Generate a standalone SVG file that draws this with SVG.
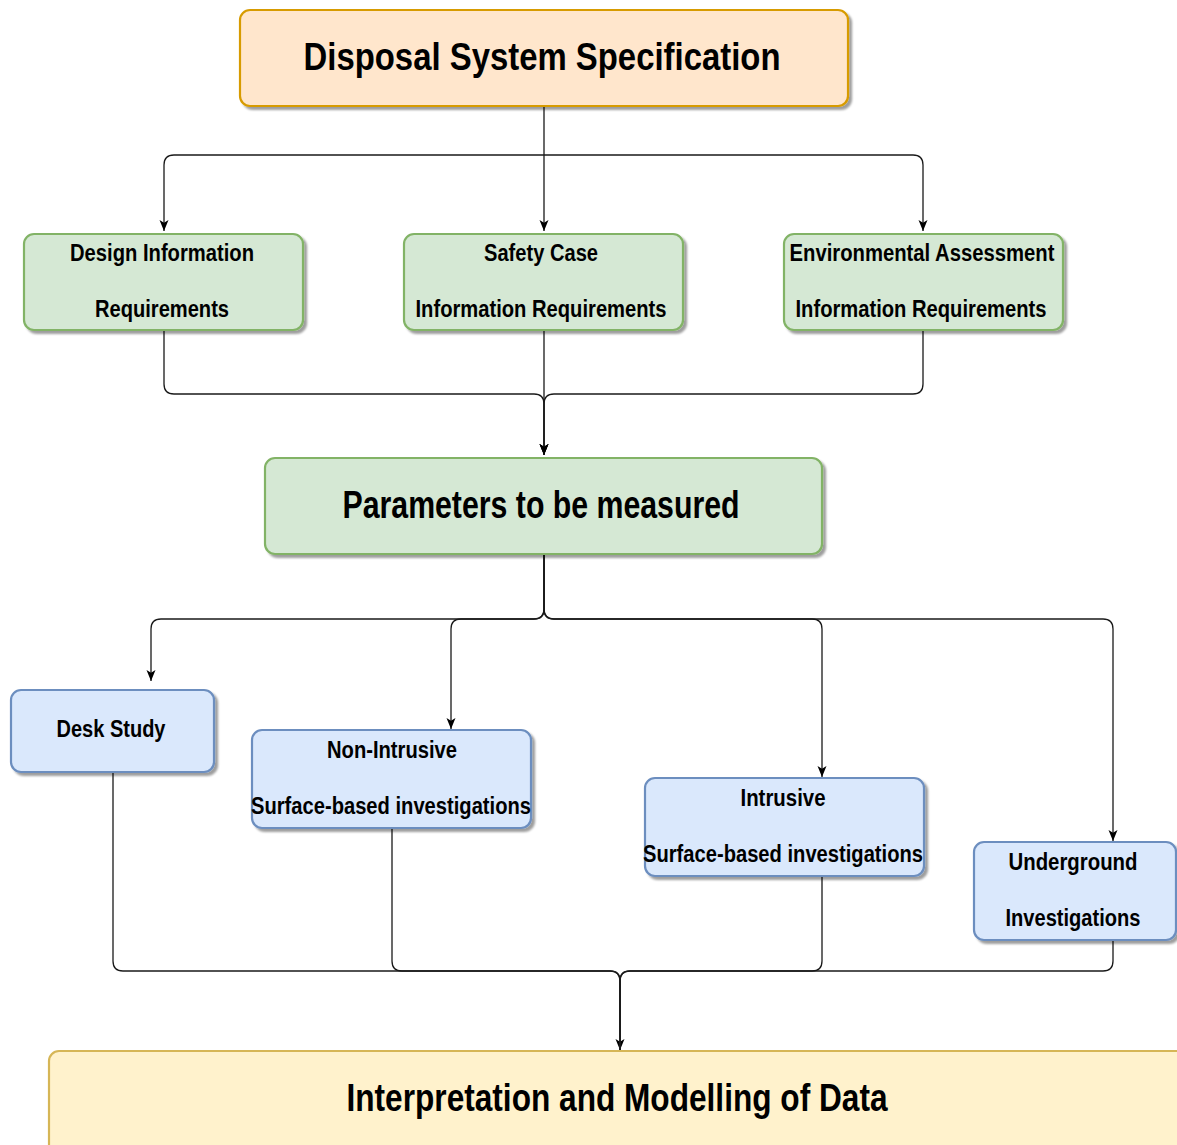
<svg xmlns="http://www.w3.org/2000/svg" width="1177" height="1145" viewBox="0 0 1177 1145">
<defs>
<style>
.box{stroke-width:2.2}
.orange{fill:#ffe6cc;stroke:#d79b00}
.green{fill:#d5e8d4;stroke:#82b366}
.blue{fill:#dae8fc;stroke:#6c8ebf}
.yellow{fill:#fff2cc;stroke:#d6b656}
text{font-family:"Liberation Sans",Arial,Helvetica,sans-serif;font-weight:bold;fill:#000;text-anchor:middle}
.big{font-size:38px}
.small{font-size:23px}
.conn{fill:none;stroke:#1a1a1a;stroke-width:1.3}
</style>
<filter id="sh" x="-5%" y="-5%" width="115%" height="125%">
<feDropShadow dx="3" dy="3" stdDeviation="1.2" flood-color="#000" flood-opacity="0.38"/>
</filter>
<marker id="arr" markerUnits="userSpaceOnUse" markerWidth="13" markerHeight="13" viewBox="0 0 13 13" refX="12" refY="6.5" orient="auto">
<path d="M1 2 L12 6.5 L1 11 L3.8 6.5 Z" fill="#000"/>
</marker>
</defs>

<g id="connectors">
<path class="conn" d="M544 106 V231" marker-end="url(#arr)"/>
<path class="conn" d="M544 155 H174 Q164 155 164 165 V231" marker-end="url(#arr)"/>
<path class="conn" d="M544 155 H913 Q923 155 923 165 V231" marker-end="url(#arr)"/>
<path class="conn" d="M164 330 V384 Q164 394 174 394 H534 Q544 394 544 404 V455" marker-end="url(#arr)"/>
<path class="conn" d="M923 330 V384 Q923 394 913 394 H554 Q544 394 544 404 V455" marker-end="url(#arr)"/>
<path class="conn" d="M544 330 V455" marker-end="url(#arr)"/>
<path class="conn" d="M544 554 V609 Q544 619 534 619 H161 Q151 619 151 629 V681" marker-end="url(#arr)"/>
<path class="conn" d="M544 554 V609 Q544 619 534 619 H461 Q451 619 451 629 V729" marker-end="url(#arr)"/>
<path class="conn" d="M544 554 V609 Q544 619 554 619 H812 Q822 619 822 629 V777" marker-end="url(#arr)"/>
<path class="conn" d="M544 554 V609 Q544 619 554 619 H1103 Q1113 619 1113 629 V841" marker-end="url(#arr)"/>
<path class="conn" d="M113 772 V961 Q113 971 123 971 H610 Q620 971 620 981 V1050" marker-end="url(#arr)"/>
<path class="conn" d="M392 828 V961 Q392 971 402 971 H610 Q620 971 620 981 V1050"/>
<path class="conn" d="M822 876 V961 Q822 971 812 971 H630 Q620 971 620 981 V1050"/>
<path class="conn" d="M1113 940 V961 Q1113 971 1103 971 H630 Q620 971 620 981 V1050"/>
</g>

<g id="disposal-system-specification">
<rect class="box orange" x="240" y="10" width="608" height="96" rx="10" filter="url(#sh)"/>
<text class="big" x="542" y="70" textLength="477" lengthAdjust="spacingAndGlyphs">Disposal System Specification</text>
</g>

<g id="design-information">
<rect class="box green" x="24" y="234" width="279" height="96" rx="10" filter="url(#sh)"/>
<text class="small" x="162" y="261" textLength="184" lengthAdjust="spacingAndGlyphs">Design Information</text>
<text class="small" x="162" y="317" textLength="134" lengthAdjust="spacingAndGlyphs">Requirements</text>
</g>

<g id="safety-case">
<rect class="box green" x="404" y="234" width="279" height="96" rx="10" filter="url(#sh)"/>
<text class="small" x="541" y="261" textLength="114" lengthAdjust="spacingAndGlyphs">Safety Case</text>
<text class="small" x="541" y="317" textLength="251" lengthAdjust="spacingAndGlyphs">Information Requirements</text>
</g>

<g id="environmental-assessment">
<rect class="box green" x="784" y="234" width="279" height="96" rx="10" filter="url(#sh)"/>
<text class="small" x="922" y="261" textLength="265" lengthAdjust="spacingAndGlyphs">Environmental Assessment</text>
<text class="small" x="921" y="317" textLength="251" lengthAdjust="spacingAndGlyphs">Information Requirements</text>
</g>

<g id="parameters">
<rect class="box green" x="265" y="458" width="557" height="96" rx="10" filter="url(#sh)"/>
<text class="big" x="541" y="518" textLength="397" lengthAdjust="spacingAndGlyphs">Parameters to be measured</text>
</g>

<g id="desk-study">
<rect class="box blue" x="11" y="690" width="203" height="82" rx="10" filter="url(#sh)"/>
<text class="small" x="111" y="737" textLength="109" lengthAdjust="spacingAndGlyphs">Desk Study</text>
</g>

<g id="non-intrusive">
<rect class="box blue" x="252" y="730" width="279" height="98" rx="10" filter="url(#sh)"/>
<text class="small" x="392" y="758" textLength="130" lengthAdjust="spacingAndGlyphs">Non-Intrusive</text>
<text class="small" x="391" y="814" textLength="280" lengthAdjust="spacingAndGlyphs">Surface-based investigations</text>
</g>

<g id="intrusive">
<rect class="box blue" x="645" y="778" width="279" height="98" rx="10" filter="url(#sh)"/>
<text class="small" x="783" y="806" textLength="85" lengthAdjust="spacingAndGlyphs">Intrusive</text>
<text class="small" x="783" y="862" textLength="280" lengthAdjust="spacingAndGlyphs">Surface-based investigations</text>
</g>

<g id="underground">
<rect class="box blue" x="974" y="842" width="202" height="98" rx="10" filter="url(#sh)"/>
<text class="small" x="1073" y="870" textLength="129" lengthAdjust="spacingAndGlyphs">Underground</text>
<text class="small" x="1073" y="926" textLength="135" lengthAdjust="spacingAndGlyphs">Investigations</text>
</g>

<g id="interpretation">
<rect class="box yellow" x="49" y="1051" width="1150" height="110" rx="10" filter="url(#sh)"/>
<text class="big" x="617" y="1111" textLength="541" lengthAdjust="spacingAndGlyphs">Interpretation and Modelling of Data</text>
</g>
</svg>
